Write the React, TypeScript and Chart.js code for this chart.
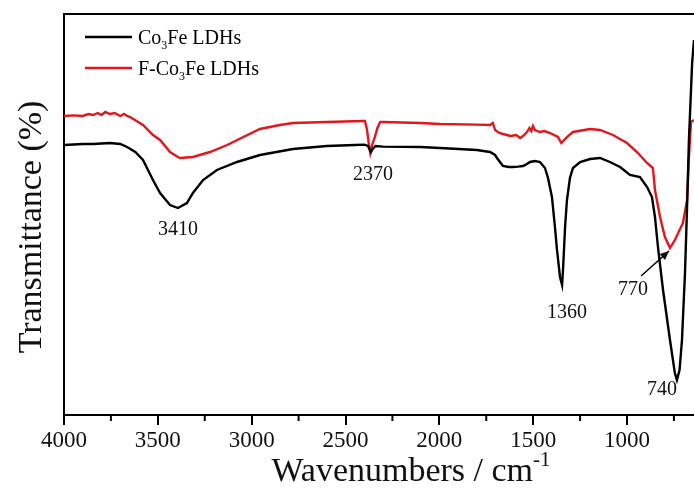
import React, { useEffect, useRef } from 'react';
import { Chart, registerables } from 'chart.js';

Chart.register(...registerables);

const FONT = "'Liberation Serif', 'Times New Roman', serif";

const seriesNames = ['Co₃Fe LDHs', 'F-Co₃Fe LDHs'];
const seriesColors = ['#000000', '#e3161d'];

const blackWavenumber = [4000, 3900, 3845, 3755, 3700, 3664, 3620, 3579, 3526, 3488, 3435, 3393, 3345, 3313, 3259, 3185, 3078, 2956, 2780, 2600, 2450, 2400, 2380, 2370, 2364, 2355, 2340, 2300, 2100, 1996, 1800, 1730, 1703, 1693, 1661, 1630, 1608, 1580, 1554, 1533, 1517, 1490, 1464, 1437, 1421, 1400, 1384, 1373, 1357, 1346, 1341, 1330, 1320, 1304, 1288, 1250, 1197, 1144, 1091, 1037, 984, 931, 893, 867, 851, 835, 808, 771, 745, 734, 720, 707, 691, 680, 670, 653, 643];
const blackTransmittance = [67.5, 67.75, 67.75, 68.0, 67.75, 67.0, 65.75, 63.75, 58.75, 55.5, 52.5, 51.75, 53.0, 55.5, 58.75, 61.25, 63.25, 65.0, 66.5, 67.25, 67.5, 67.6, 67.25, 66.25, 65.75, 66.5, 67.25, 67.1, 67.0, 66.75, 66.25, 65.75, 65.0, 64.25, 62.25, 62.0, 62.0, 62.1, 62.25, 62.75, 63.25, 63.5, 63.25, 61.75, 59.25, 54.5, 47.0, 41.25, 34.5, 32.5, 36.25, 47.0, 53.75, 59.25, 61.75, 63.25, 64.0, 64.25, 63.25, 62.0, 60.0, 59.5, 57.0, 54.5, 49.5, 42.0, 31.25, 18.75, 10.5, 8.75, 11.25, 18.75, 35.5, 52.0, 68.75, 88.0, 93.75];

const redWavenumber = [4000, 3950, 3900, 3870, 3845, 3820, 3800, 3780, 3755, 3730, 3700, 3680, 3664, 3648, 3579, 3526, 3488, 3435, 3393, 3382, 3313, 3222, 3131, 2956, 2850, 2780, 2599, 2407, 2396, 2385, 2375, 2368, 2362, 2355, 2345, 2330, 2315, 2300, 2100, 1996, 1800, 1730, 1715, 1703, 1680, 1661, 1620, 1590, 1570, 1554, 1533, 1520, 1510, 1501, 1490, 1464, 1440, 1410, 1368, 1350, 1340, 1320, 1288, 1197, 1144, 1075, 1000, 947, 893, 862, 851, 824, 798, 771, 745, 702, 680, 670, 659, 643];
const redTransmittance = [74.75, 74.9, 74.75, 75.25, 75.0, 75.5, 75.0, 75.75, 75.25, 75.5, 74.75, 75.25, 74.75, 74.5, 72.5, 70.0, 68.75, 65.75, 64.5, 64.25, 64.5, 65.75, 67.5, 71.5, 72.5, 73.0, 73.25, 73.5, 73.5, 71.25, 67.5, 65.5, 66.75, 68.0, 69.25, 71.75, 73.25, 73.25, 73.0, 72.75, 72.6, 72.5, 73.0, 71.25, 70.5, 70.25, 69.75, 70.0, 69.25, 69.75, 70.75, 71.75, 71.0, 72.25, 71.25, 70.75, 71.0, 70.5, 69.5, 68.0, 68.5, 69.5, 70.75, 71.5, 71.25, 70.0, 68.0, 65.75, 63.0, 61.75, 56.25, 49.5, 44.5, 41.75, 43.75, 48.0, 53.75, 64.5, 73.25, 73.75];

const xMin = 643;
const xMax = 4000;
const xMajorTicks = [4000, 3500, 3000, 2500, 2000, 1500, 1000];
const xMinorTicks = [3750, 3250, 2750, 2250, 1750, 1250, 750];

const peakLabels = ['3410', '2370', '1360', '770', '740'];
const peakLabelWavenumber = [3393, 2353, 1320, 968, 813];
const peakLabelValue = [46.25, 60.0, 25.5, 31.25, 6.25];

// arrow from the "770" label to the red minimum
const arrowFrom = [925, 34.75];
const arrowTo = [776, 41.0];

const xTitle = 'Wavenumbers / cm⁻¹';
const yTitle = 'Transmittance (%)';

type Seg = { t: string; kind: 'n' | 'sub' | 'sup' };

function splitRich(text: string): Seg[] {
  const segs: Seg[] = [];
  const subMap: Record<string, string> = { '₀': '0', '₁': '1', '₂': '2', '₃': '3', '₄': '4' };
  const supMap: Record<string, string> = { '⁻': '-', '¹': '1', '²': '2', '³': '3' };
  for (const ch of text) {
    let kind: Seg['kind'] = 'n';
    let t = ch;
    if (subMap[ch]) { kind = 'sub'; t = subMap[ch]; }
    else if (supMap[ch]) { kind = 'sup'; t = supMap[ch]; }
    const last = segs[segs.length - 1];
    if (last && last.kind === kind) last.t += t;
    else segs.push({ t, kind });
  }
  return segs;
}

function drawRich(ctx: CanvasRenderingContext2D, text: string, x: number, y: number, size: number, align: 'left' | 'center') {
  const segs = splitRich(text);
  const small = Math.round(size * 0.62);
  const widths = segs.map((s) => {
    ctx.font = `${s.kind === 'n' ? size : small}px ${FONT}`;
    return ctx.measureText(s.t).width;
  });
  const total = widths.reduce((a, b) => a + b, 0);
  let cx = align === 'center' ? x - total / 2 : x;
  ctx.textAlign = 'left';
  ctx.textBaseline = 'alphabetic';
  segs.forEach((s, i) => {
    ctx.font = `${s.kind === 'n' ? size : small}px ${FONT}`;
    const dy = s.kind === 'sub' ? size * 0.28 : s.kind === 'sup' ? -size * 0.45 : 0;
    ctx.fillText(s.t, cx, y + dy);
    cx += widths[i];
  });
}

const decorPlugin = {
  id: 'decor',
  afterDraw(chart: any) {
    const { ctx, chartArea, scales } = chart;
    const xs = scales.x;
    const ys = scales.y;
    ctx.save();
    ctx.strokeStyle = '#000';
    ctx.fillStyle = '#000';

    // top frame line
    ctx.lineWidth = 2;
    ctx.beginPath();
    ctx.moveTo(chartArea.left - 1, chartArea.top);
    ctx.lineTo(chartArea.right, chartArea.top);
    ctx.stroke();

    // minor ticks
    ctx.lineWidth = 2;
    for (const v of xMinorTicks) {
      const px = xs.getPixelForValue(v);
      ctx.beginPath();
      ctx.moveTo(px, chartArea.bottom);
      ctx.lineTo(px, chartArea.bottom + 6);
      ctx.stroke();
    }

    // legend
    const rows = [37, 68];
    chart.data.datasets.forEach((ds: any, i: number) => {
      const yy = rows[i];
      ctx.strokeStyle = ds.borderColor;
      ctx.lineWidth = 2.5;
      ctx.beginPath();
      ctx.moveTo(85, yy);
      ctx.lineTo(132, yy);
      ctx.stroke();
      ctx.fillStyle = '#000';
      drawRich(ctx, ds.label, 138, yy + 6.5, 20, 'left');
    });

    // peak labels
    ctx.fillStyle = '#111';
    peakLabels.forEach((lab, i) => {
      const px = xs.getPixelForValue(peakLabelWavenumber[i]);
      const py = ys.getPixelForValue(peakLabelValue[i]);
      ctx.font = `20px ${FONT}`;
      ctx.textAlign = 'center';
      ctx.textBaseline = 'middle';
      ctx.fillText(lab, px, py);
    });

    // arrow
    const ax0 = xs.getPixelForValue(arrowFrom[0]);
    const ay0 = ys.getPixelForValue(arrowFrom[1]);
    const ax1 = xs.getPixelForValue(arrowTo[0]);
    const ay1 = ys.getPixelForValue(arrowTo[1]);
    ctx.strokeStyle = '#000';
    ctx.lineWidth = 1.5;
    ctx.beginPath();
    ctx.moveTo(ax0, ay0);
    ctx.lineTo(ax1, ay1);
    ctx.stroke();
    const ang = Math.atan2(ay1 - ay0, ax1 - ax0);
    const hl = 9, hw = 4;
    ctx.beginPath();
    ctx.moveTo(ax1, ay1);
    ctx.lineTo(ax1 - hl * Math.cos(ang) + hw * Math.sin(ang), ay1 - hl * Math.sin(ang) - hw * Math.cos(ang));
    ctx.lineTo(ax1 - hl * Math.cos(ang) - hw * Math.sin(ang), ay1 - hl * Math.sin(ang) + hw * Math.cos(ang));
    ctx.closePath();
    ctx.fill();

    // axis titles
    ctx.fillStyle = '#111';
    drawRich(ctx, xTitle, 411, 481, 34, 'center');

    ctx.translate(41, 227);
    ctx.rotate(-Math.PI / 2);
    ctx.font = `34px ${FONT}`;
    ctx.textAlign = 'center';
    ctx.textBaseline = 'alphabetic';
    ctx.fillText(yTitle, 0, 0);

    ctx.restore();
  },
};

export default function App() {
  const canvasRef = useRef<HTMLCanvasElement | null>(null);

  useEffect(() => {
    const canvas = canvasRef.current;
    if (!canvas) return;
    const chart = new Chart(canvas, {
      type: 'line',
      data: {
        datasets: [
          {
            label: seriesNames[0],
            data: blackWavenumber.map((w, i) => ({ x: w, y: blackTransmittance[i] })),
            borderColor: seriesColors[0],
            borderWidth: 2.4,
            pointRadius: 0,
            tension: 0,
            fill: false,
          },
          {
            label: seriesNames[1],
            data: redWavenumber.map((w, i) => ({ x: w, y: redTransmittance[i] })),
            borderColor: seriesColors[1],
            borderWidth: 2.4,
            pointRadius: 0,
            tension: 0,
            fill: false,
          },
        ],
      },
      options: {
        responsive: false,
        animation: false,
        devicePixelRatio: 1,
        layout: { padding: { top: 14, left: 0, right: 0, bottom: 0 } },
        plugins: { legend: { display: false }, tooltip: { enabled: false } },
        scales: {
          x: {
            type: 'linear',
            reverse: true,
            min: xMin,
            max: xMax,
            afterBuildTicks: (s: any) => { s.ticks = xMajorTicks.map((v) => ({ value: v })); },
            afterFit: (s: any) => { s.height = 74; s.paddingLeft = 0; s.paddingRight = 0; },
            ticks: {
              autoSkip: false,
              maxRotation: 0,
              padding: 2,
              color: '#111',
              font: { family: FONT, size: 23 },
              callback: (v: any) => String(v),
            },
            grid: { drawOnChartArea: false, drawTicks: true, tickLength: 10, color: '#000', lineWidth: 2 },
            border: { display: true, color: '#000', width: 2 },
          },
          y: {
            type: 'linear',
            min: 0,
            max: 100.25,
            afterFit: (s: any) => { s.width = 64; },
            ticks: { display: false },
            grid: { display: false, drawTicks: false },
            border: { display: true, color: '#000', width: 2 },
          },
        },
      },
      plugins: [decorPlugin],
    } as any);
    return () => chart.destroy();
  }, []);

  return (
    <div style={{ position: 'fixed', left: 0, top: 0, width: 694, height: 489, background: '#fff' }}>
      <canvas ref={canvasRef} width={694} height={489} style={{ display: 'block' }} />
    </div>
  );
}
